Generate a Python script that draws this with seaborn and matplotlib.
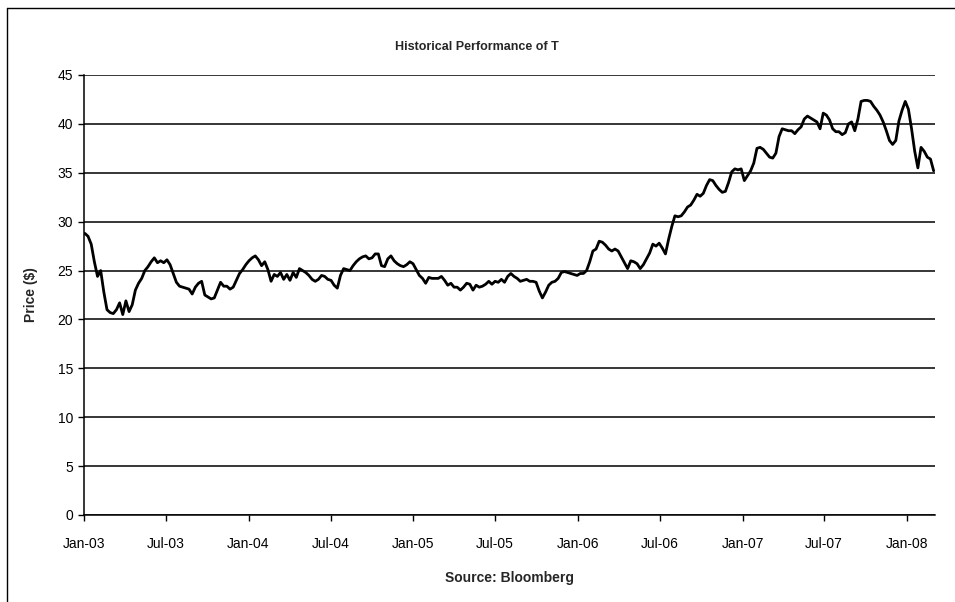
import matplotlib
matplotlib.use("Agg")
import matplotlib.pyplot as plt
import matplotlib.dates as mdates
from matplotlib.lines import Line2D
import seaborn as sns
import pandas as pd

# Weekly closing prices, Jan 2003 - Feb 2008
prices_a = [28.8, 28.5, 27.7, 25.9, 24.4, 25.0, 22.8, 21.0, 20.7, 20.6,
            21.0, 21.7, 20.5, 21.9, 20.8, 21.5, 23.0, 23.7, 24.2, 25.0,
            25.4, 25.9, 26.3, 25.8, 26.0, 25.8, 26.1, 25.6, 24.7, 23.8,
            23.4, 23.3, 23.2, 23.1, 22.6, 23.3, 23.7, 23.9]
prices_b = [22.5, 22.3, 22.1, 22.2, 23.0, 23.8, 23.4, 23.4, 23.1, 23.3,
            24.0, 24.7, 25.1, 25.6, 26.0, 26.3, 26.5, 26.1, 25.5, 25.9,
            25.1, 23.9, 24.6, 24.4, 24.8, 24.1, 24.6, 24.0, 24.8, 24.3,
            25.2, 25.0, 24.8, 24.5, 24.1, 23.9, 24.1, 24.5]
prices_c = [24.4, 24.1, 24.0, 23.5, 23.2, 24.5, 25.2, 25.1, 25.0, 25.5,
            25.9, 26.2, 26.4, 26.5, 26.2, 26.3, 26.7, 26.7, 25.5, 25.4,
            26.2, 26.5, 26.0, 25.7, 25.5, 25.4, 25.6, 25.9, 25.7, 25.1,
            24.5, 24.2, 23.7, 24.3, 24.2, 24.2, 24.2, 24.4]
prices_d = [24.0, 23.5, 23.7, 23.3, 23.3, 23.0, 23.3, 23.7, 23.6, 23.0,
            23.5, 23.3, 23.4, 23.6, 23.9, 23.6, 23.9, 23.8, 24.1, 23.8,
            24.4, 24.7, 24.4, 24.2, 23.9, 24.0, 24.1, 23.9, 23.9, 23.8,
            22.9, 22.2, 22.8, 23.5, 23.8, 23.9, 24.2, 24.8]
prices_e = [24.9, 24.8, 24.7, 24.6, 24.5, 24.7, 24.7, 25.0, 25.9, 27.0,
            27.2, 28.0, 27.9, 27.6, 27.2, 27.0, 27.2, 27.0, 26.4, 25.8,
            25.2, 26.0, 25.9, 25.7, 25.2, 25.6, 26.2, 26.8, 27.7, 27.5,
            27.8, 27.3, 26.7, 28.2, 29.5, 30.6, 30.5, 30.6]
prices_f = [31.0, 31.5, 31.7, 32.2, 32.8, 32.6, 32.9, 33.7, 34.3, 34.2,
            33.7, 33.3, 33.0, 33.1, 34.0, 35.1, 35.4, 35.3, 35.4, 34.2,
            34.7, 35.2, 36.0, 37.5, 37.6, 37.4, 37.0, 36.6, 36.5, 37.0,
            38.7, 39.5, 39.4, 39.3, 39.3, 39.0, 39.4, 39.7]
prices_g = [40.5, 40.8, 40.6, 40.4, 40.2, 39.5, 41.1, 40.9, 40.4, 39.5,
            39.2, 39.2, 38.9, 39.1, 40.0, 40.2, 39.3, 40.5, 42.3, 42.4,
            42.4, 42.3, 41.8, 41.4, 40.9, 40.2, 39.3, 38.3, 37.9, 38.3,
            40.3, 41.4, 42.3, 41.5, 39.5, 37.2, 35.5, 37.6, 37.2, 36.6,
            36.4, 35.2]

prices = prices_a + prices_b + prices_c + prices_d + prices_e + prices_f + prices_g
dates = pd.date_range("2003-01-03", periods=len(prices), freq="W-FRI")
df = pd.DataFrame({"Date": dates, "Price": prices})

title_text = "Historical Performance of T"
ylabel_text = "Price ($)"
xlabel_text = "Source: Bloomberg"
y_ticks = [0, 5, 10, 15, 20, 25, 30, 35, 40, 45]

sns.set_style("white")
plt.rcParams["font.family"] = ["Liberation Sans", "DejaVu Sans"]

W, H = 955, 602
fig = plt.figure(figsize=(W / 100, H / 100), dpi=100)
ax = fig.add_axes([84 / W, 1 - 515 / H, (935 - 84) / W, (515 - 75) / H])

sns.lineplot(data=df, x="Date", y="Price", color="black", linewidth=2.0, ax=ax)

ax.set_ylim(0, 45)
ax.set_yticks(y_ticks)
ax.set_xlim(pd.Timestamp("2003-01-01"), pd.Timestamp("2008-03-03"))
ax.xaxis.set_major_locator(mdates.MonthLocator(bymonth=[1, 7]))
ax.xaxis.set_major_formatter(mdates.DateFormatter("%b-%y"))

ax.yaxis.grid(True, color="black", linewidth=1.1)
ax.xaxis.grid(False)
ax.set_axisbelow(True)
for s in ["top", "right"]:
    ax.spines[s].set_visible(False)
for s in ["left", "bottom"]:
    ax.spines[s].set_color("black")
    ax.spines[s].set_linewidth(1.1)

ax.tick_params(axis="both", direction="out", length=4, width=1, color="black",
               labelsize=10, labelcolor="black", bottom=True, left=True)
ax.tick_params(axis="x", pad=12)
ax.tick_params(axis="y", pad=4)

ax.set_ylabel(ylabel_text, fontsize=10, fontweight="bold", labelpad=14)
ax.set_xlabel(xlabel_text, fontsize=10, fontweight="bold", labelpad=14)
fig.text(477 / W, 1 - 47 / H, title_text, ha="center", va="center",
         fontsize=9, fontweight="bold")

# outer chart frame (top and left edges visible in the reference)
fig.add_artist(Line2D([7 / W, 7 / W], [0, 1 - 8 / H], transform=fig.transFigure,
                      color="black", linewidth=1))
fig.add_artist(Line2D([7 / W, 1], [1 - 8 / H, 1 - 8 / H], transform=fig.transFigure,
                      color="black", linewidth=1))

fig.savefig("out.png", dpi=100)
